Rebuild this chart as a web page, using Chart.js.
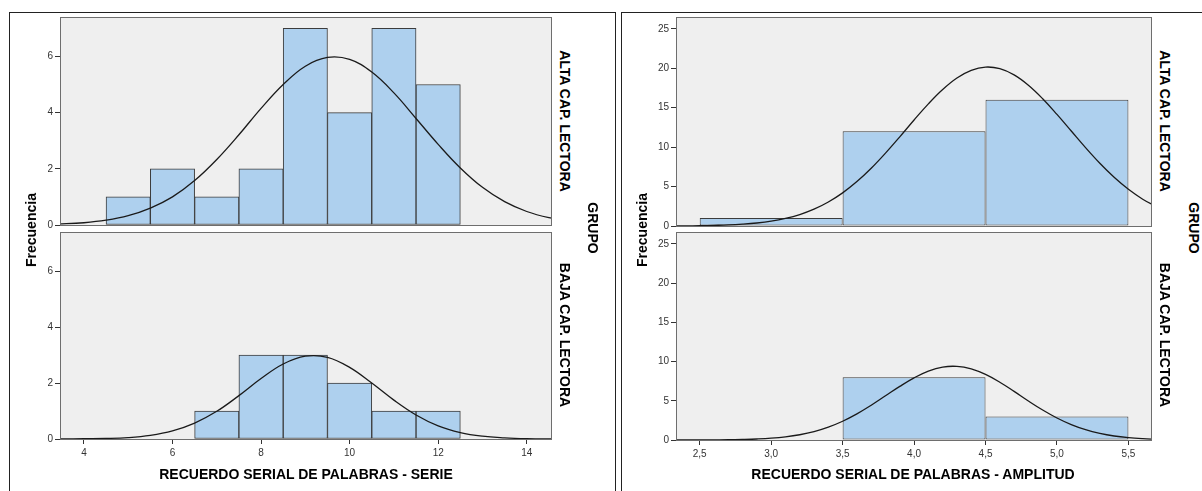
<!DOCTYPE html>
<html>
<head>
<meta charset="utf-8">
<script src="https://cdn.jsdelivr.net/npm/chart.js@4/dist/chart.umd.min.js"></script>
<style>
    body { margin: 0; width: 1202px; height: 491px; background: #fff; position: relative; overflow: hidden;
           font-family: "Liberation Sans", Arial, sans-serif; }
    .frame { position: absolute; border: 1px solid #222; }
    canvas { position: absolute; }
    .lbl { position: absolute; font-weight: bold; font-size: 14px; color: #000; white-space: nowrap;
           transform: translate(-50%, -50%); }
    .up { transform: translate(-50%, -50%) rotate(-90deg); }
    .down { transform: translate(-50%, -50%) rotate(90deg); }
</style>
</head>
<body>
<div class="frame" style="left:9px; top:12px; width:605px; height:500px"></div>
<div class="frame" style="left:621px; top:12px; width:600px; height:500px"></div>

<canvas id="serieAlta" width="537" height="218" style="left:20px; top:12px"></canvas>
<canvas id="serieBaja" width="537" height="234" style="left:20px; top:227px"></canvas>
<canvas id="ampAlta" width="521" height="219" style="left:636px; top:12px"></canvas>
<canvas id="ampBaja" width="521" height="235" style="left:636px; top:227px"></canvas>

<div class="lbl up" style="left:31px; top:230px">Frecuencia</div>
<div class="lbl up" style="left:642px; top:230px">Frecuencia</div>
<div class="lbl down" style="left:565px; top:121px">ALTA CAP. LECTORA</div>
<div class="lbl down" style="left:565px; top:335px">BAJA CAP. LECTORA</div>
<div class="lbl down" style="left:593px; top:228px">GRUPO</div>
<div class="lbl down" style="left:1165px; top:121px">ALTA CAP. LECTORA</div>
<div class="lbl down" style="left:1165px; top:335px">BAJA CAP. LECTORA</div>
<div class="lbl down" style="left:1194px; top:228px">GRUPO</div>
<div class="lbl" style="left:306px; top:474px">RECUERDO SERIAL DE PALABRAS - SERIE</div>
<div class="lbl" style="left:913px; top:474px">RECUERDO SERIAL DE PALABRAS - AMPLITUD</div>

<script>
    // Serie: histogram bins (centres), counts per group
    const serieBins = [5, 6, 7, 8, 9, 10, 11, 12]
    const serieAlta = [1, 2, 1, 2, 7, 4, 7, 5]
    const serieBaja = [null, null, 1, 3, 3, 2, 1, 1]
    const serieTicks = [4, 6, 8, 10, 12, 14]

    // Serie: normal curve
    const serieCurveX = [3, 3.5, 4, 4.5, 5, 5.5, 6, 6.5, 7, 7.5, 8, 8.5, 9, 9.5, 10, 10.5, 11, 11.5, 12, 12.5, 13, 13.5, 14, 14.5, 15]
    const serieAltaCurve = [0.02, 0.04, 0.08, 0.17, 0.33, 0.60, 1.00, 1.58, 2.33, 3.21, 4.15, 5.00, 5.65, 5.96, 5.89, 5.44, 4.70, 3.79, 2.87, 2.03, 1.34, 0.83, 0.48, 0.26, 0.13]
    const serieBajaCurve = [0.00, 0.00, 0.01, 0.02, 0.05, 0.13, 0.29, 0.57, 0.99, 1.55, 2.16, 2.68, 2.96, 2.92, 2.56, 2.00, 1.39, 0.86, 0.47, 0.23, 0.10, 0.04, 0.01, 0.00, 0.00]

    // Amplitud
    const ampBins = [3, 4, 5]
    const ampAlta = [1, 12, 16]
    const ampBaja = [null, 8, 3]
    const ampTicks = [2.5, 3.0, 3.5, 4.0, 4.5, 5.0, 5.5]

    const ampCurveX = [2.3, 2.4, 2.5, 2.6, 2.7, 2.8, 2.9, 3.0, 3.1, 3.2, 3.3, 3.4, 3.5, 3.6, 3.7, 3.8, 3.9, 4.0, 4.1, 4.2, 4.3, 4.4, 4.5, 4.6, 4.7, 4.8, 4.9, 5.0, 5.1, 5.2, 5.3, 5.4, 5.5, 5.6, 5.7]
    const ampAltaCurve = [0.01, 0.02, 0.04, 0.08, 0.13, 0.23, 0.38, 0.61, 0.96, 1.45, 2.13, 3.04, 4.20, 5.63, 7.32, 9.24, 11.31, 13.44, 15.49, 17.31, 18.77, 19.74, 20.15, 19.95, 19.16, 17.85, 16.14, 14.15, 12.04, 9.93, 7.95, 6.17, 4.65, 3.40, 2.41]
    const ampBajaCurve = [0.00, 0.00, 0.01, 0.02, 0.03, 0.07, 0.13, 0.23, 0.40, 0.67, 1.07, 1.64, 2.39, 3.33, 4.43, 5.63, 6.83, 7.92, 8.78, 9.29, 9.38, 9.06, 8.35, 7.36, 6.19, 4.97, 3.82, 2.80, 1.96, 1.31, 0.84, 0.51, 0.30, 0.17, 0.09]

    const FONT = '"Liberation Sans", Arial, sans-serif'

    // grey plot background + frame
    const plotBox = {
        id: 'plotBox',
        beforeDraw(chart) {
            const {ctx, chartArea: a} = chart
            ctx.save()
            ctx.fillStyle = '#efefef'
            ctx.fillRect(a.left, a.top, a.right - a.left, a.bottom - a.top)
            ctx.restore()
        },
        afterDraw(chart) {
            const {ctx, chartArea: a} = chart
            ctx.save()
            ctx.strokeStyle = '#6e6e6e'
            ctx.lineWidth = 1
            ctx.strokeRect(a.left + 0.5, a.top + 0.5, a.right - a.left - 1, a.bottom - a.top)
            ctx.restore()
        }
    }

    // no extra room for tick labels, the canvas is sized by hand
    function noPad(s) {
        s.paddingTop = 0
        s.paddingBottom = 0
        s.paddingLeft = 0
        s.paddingRight = 0
    }

    function makeHist(id, bins, counts, curveX, curveY, cfg) {
        const ctx = document.getElementById(id).getContext('2d')
        return new Chart(ctx, {
            type: 'bar',
            data: {
                datasets: [{
                    type: 'line',
                    order: 0,
                    data: curveX.map((x, i) => ({x: x, y: curveY[i]})),
                    borderColor: '#1a1a1a',
                    borderWidth: 1.3,
                    pointRadius: 0,
                    tension: 0.4,
                    clip: 0
                }, {
                    order: 1,
                    data: bins.map((b, i) => ({x: b, y: counts[i]})),
                    backgroundColor: '#aed0ee',
                    borderColor: '#3c3c3c',
                    borderWidth: 1,
                    borderSkipped: false,
                    categoryPercentage: 1,
                    barPercentage: cfg.barPct
                }]
            },
            options: {
                responsive: false,
                animation: false,
                events: [],
                layout: {padding: {left: 0, top: 5, right: 5, bottom: cfg.showX ? 0 : 5}},
                plugins: {legend: {display: false}, tooltip: {enabled: false}},
                scales: {
                    x: {
                        type: 'linear',
                        offset: false,
                        min: cfg.xMin,
                        max: cfg.xMax,
                        afterBuildTicks: s => { s.ticks = cfg.xTicks.map(v => ({value: v})) },
                        ticks: {
                            display: cfg.showX,
                            color: '#333',
                            font: {family: FONT, size: 10},
                            padding: 3,
                            maxRotation: 0,
                            autoSkip: false,
                            callback: cfg.fmt
                        },
                        grid: {display: cfg.showX, offset: false, drawOnChartArea: false, tickLength: 5, color: '#333'},
                        border: {display: false},
                        afterFit: s => { s.height = cfg.showX ? 22 : 0; noPad(s) }
                    },
                    y: {
                        min: 0,
                        max: cfg.yMax,
                        ticks: {
                            stepSize: cfg.yStep,
                            includeBounds: false,
                            color: '#333',
                            font: {family: FONT, size: 10},
                            padding: 2
                        },
                        grid: {offset: false, drawOnChartArea: false, tickLength: 5, color: '#333'},
                        border: {display: false},
                        afterFit: s => { s.width = 40; noPad(s) }
                    }
                }
            },
            plugins: [plotBox]
        })
    }

    const serieCfg = {xMin: 3.46, xMax: 14.57, xTicks: serieTicks, yMax: 7.4, yStep: 2, barPct: 1,
                      fmt: v => String(v)}
    const ampCfg = {xMin: 2.334, xMax: 5.665, xTicks: ampTicks, yMax: 26.5, yStep: 5, barPct: 2,
                    fmt: v => v.toFixed(1).replace('.', ',')}

    makeHist('serieAlta', serieBins, serieAlta, serieCurveX, serieAltaCurve, {...serieCfg, showX: false})
    makeHist('serieBaja', serieBins, serieBaja, serieCurveX, serieBajaCurve, {...serieCfg, showX: true})
    makeHist('ampAlta', ampBins, ampAlta, ampCurveX, ampAltaCurve, {...ampCfg, showX: false})
    makeHist('ampBaja', ampBins, ampBaja, ampCurveX, ampBajaCurve, {...ampCfg, showX: true})
</script>
</body>
</html>
